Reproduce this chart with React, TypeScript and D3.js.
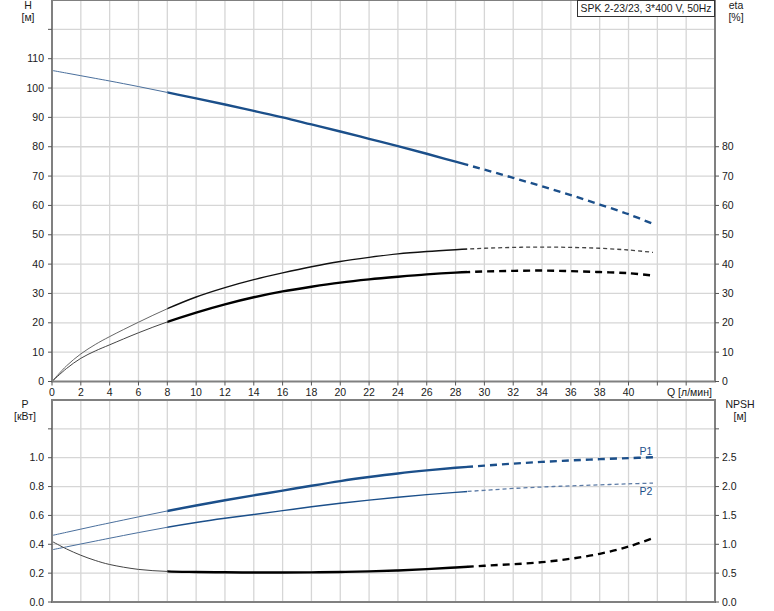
import React from "react";
import * as d3 from "d3";

const qValues = [0, 1, 2, 3, 4, 6, 8, 10, 12, 14, 16, 18, 20, 22, 24, 26, 28, 30, 32, 34, 36, 38, 40, 41.7];
const headH = [106, 105.1, 104.2, 103.3, 102.4, 100.5, 98.5, 96.5, 94.4, 92.2, 90.0, 87.6, 85.2, 82.7, 80.2, 77.6, 74.9, 72.2, 69.4, 66.5, 63.5, 60.3, 57.0, 53.7];
const etaUpper = [0, 5.3, 9.4, 12.6, 15.3, 20.2, 24.8, 28.8, 32.0, 34.7, 37.0, 39.1, 40.9, 42.3, 43.5, 44.3, 44.9, 45.4, 45.7, 45.8, 45.7, 45.4, 44.8, 44.0];
const etaLower = [0, 4.4, 7.9, 10.4, 12.5, 16.6, 20.3, 23.5, 26.3, 28.7, 30.7, 32.3, 33.7, 34.8, 35.7, 36.5, 37.1, 37.5, 37.7, 37.8, 37.6, 37.3, 36.9, 36.1];
const powerP1 = [0.461, 0.483, 0.505, 0.527, 0.548, 0.590, 0.631, 0.669, 0.705, 0.739, 0.772, 0.806, 0.838, 0.866, 0.891, 0.912, 0.930, 0.945, 0.959, 0.971, 0.981, 0.990, 0.997, 1.003];
const powerP2 = [0.362, 0.382, 0.402, 0.422, 0.442, 0.481, 0.518, 0.551, 0.580, 0.606, 0.633, 0.660, 0.684, 0.706, 0.726, 0.744, 0.760, 0.774, 0.787, 0.797, 0.805, 0.812, 0.819, 0.824];
const npsh = [1.05, 0.92, 0.81, 0.72, 0.65, 0.565, 0.53, 0.52, 0.515, 0.51, 0.51, 0.513, 0.52, 0.53, 0.547, 0.57, 0.598, 0.628, 0.655, 0.69, 0.75, 0.835, 0.96, 1.107];

const xTicks = d3.range(0, 46, 2);
const xLabels = d3.range(0, 42, 2);
const hTicks = d3.range(0, 130, 10);
const hLabels = d3.range(0, 120, 10);
const etaLabels = d3.range(0, 90, 10);
const pTicks = [0, 0.2, 0.4, 0.6, 0.8, 1.0, 1.2];
const pLabels = [0, 0.2, 0.4, 0.6, 0.8, 1.0];
const npshTicks = [0, 0.5, 1.0, 1.5, 2.0, 2.5, 3.0];
const npshLabels = [0, 0.5, 1.0, 1.5, 2.0, 2.5];

const title = "SPK 2-23/23, 3*400 V, 50Hz";
const SPLIT1 = 8;
const SPLIT2 = 28.8;

const L = 52, R = 715;
const T1 = 0, B1 = 381.5;
const T2 = 400, B2 = 602;

const x = d3.scaleLinear().domain([0, 46]).range([L, R]);
const yH = d3.scaleLinear().domain([0, 130]).range([B1, T1]);
const yP = d3.scaleLinear().domain([0, 1.4]).range([B2, T2]);
const yN = d3.scaleLinear().domain([0, 3.5]).range([B2, T2]);

const BLUE = "#1b4f8a";
const FONT = "Liberation Sans, Arial, sans-serif";
const FS = 10.5;

type Style = { color: string; thin: number; mid: number; dash: number; dashArr: string; dashColor?: string; thinColor?: string };

function Curve({ ys, yScale, st, id }: { ys: number[]; yScale: d3.ScaleLinear<number, number>; st: Style; id: string }) {
  const line = d3
    .line<number>()
    .x((_, i) => x(qValues[i]))
    .y((v) => yScale(v))
    .curve(d3.curveCatmullRom.alpha(0.5));
  const d = line(ys) || "";
  return (
    <g>
      <defs>
        <clipPath id={id + "a"}>
          <rect x={0} y={0} width={x(SPLIT1)} height={611} />
        </clipPath>
        <clipPath id={id + "b"}>
          <rect x={x(SPLIT1)} y={0} width={x(SPLIT2) - x(SPLIT1)} height={611} />
        </clipPath>
        <clipPath id={id + "c"}>
          <rect x={x(SPLIT2)} y={0} width={774 - x(SPLIT2)} height={611} />
        </clipPath>
      </defs>
      <path d={d} fill="none" stroke={st.thinColor || st.color} strokeWidth={st.thin} clipPath={`url(#${id}a)`} />
      <path d={d} fill="none" stroke={st.color} strokeWidth={st.mid} clipPath={`url(#${id}b)`} />
      <path d={d} fill="none" stroke={st.dashColor || st.color} strokeWidth={st.dash} strokeDasharray={st.dashArr} clipPath={`url(#${id}c)`} />
    </g>
  );
}

const thickBlue: Style = { color: BLUE, thin: 1, mid: 2.4, dash: 2.4, dashArr: "7,5", thinColor: "#4a6f9c" };
const thinBlue: Style = { color: BLUE, thin: 1, mid: 1.4, dash: 1.3, dashArr: "4,3", dashColor: "#5b7aa5", thinColor: "#4a6f9c" };
const thickBlack: Style = { color: "#000", thin: 1, mid: 2.4, dash: 2.4, dashArr: "7,5", thinColor: "#444" };
const thinBlack: Style = { color: "#111", thin: 0.9, mid: 1.4, dash: 1.3, dashArr: "4,3", dashColor: "#444", thinColor: "#555" };

export default function App() {
  const grid = "#d6d6d6";
  const axis = "#808080";
  const txt = "#1a1a1a";
  return (
    <svg width={774} height={611} style={{ position: "absolute", left: 0, top: 0, background: "#fff" }} fontFamily={FONT}>
      <rect x={0} y={0} width={774} height={611} fill="#fff" />
      {xTicks.slice(1).map((q) => (
        <line key={"gx1" + q} x1={x(q)} x2={x(q)} y1={T1} y2={B1} stroke={grid} strokeWidth={1.3} />
      ))}
      {hTicks.slice(1).map((v) => (
        <line key={"gy1" + v} x1={L} x2={R} y1={yH(v)} y2={yH(v)} stroke={grid} strokeWidth={1.3} />
      ))}
      {xTicks.slice(1).map((q) => (
        <line key={"gx2" + q} x1={x(q)} x2={x(q)} y1={T2} y2={B2} stroke={grid} strokeWidth={1.3} />
      ))}
      {pTicks.slice(1).map((v) => (
        <line key={"gy2" + v} x1={L} x2={R} y1={yP(v)} y2={yP(v)} stroke={grid} strokeWidth={1.3} />
      ))}

      <Curve ys={headH} yScale={yH} st={thickBlue} id="cH" />
      <Curve ys={etaUpper} yScale={yH} st={thinBlack} id="cE1" />
      <Curve ys={etaLower} yScale={yH} st={thickBlack} id="cE2" />
      <Curve ys={powerP1} yScale={yP} st={thickBlue} id="cP1" />
      <Curve ys={powerP2} yScale={yP} st={thinBlue} id="cP2" />
      <Curve ys={npsh} yScale={yN} st={thickBlack} id="cN" />

      <line x1={L} x2={R} y1={T1 + 0.5} y2={T1 + 0.5} stroke={axis} strokeWidth={1} />
      <line x1={L} x2={L} y1={T1} y2={B1} stroke={axis} strokeWidth={2} />
      <line x1={R} x2={R} y1={T1} y2={B1} stroke={axis} strokeWidth={2} />
      <line x1={L - 1} x2={R + 1} y1={B1} y2={B1} stroke={axis} strokeWidth={2} />

      <line x1={L - 1} x2={R + 1} y1={T2} y2={T2} stroke={axis} strokeWidth={2} />
      <line x1={L} x2={L} y1={T2} y2={B2} stroke={axis} strokeWidth={2} />
      <line x1={R} x2={R} y1={T2} y2={B2} stroke={axis} strokeWidth={2} />
      <line x1={L - 1} x2={R + 1} y1={B2} y2={B2} stroke={axis} strokeWidth={2} />

      {hTicks.map((v) => (
        <line key={"th" + v} x1={L - 4} x2={L} y1={yH(v)} y2={yH(v)} stroke="#555" strokeWidth={1} />
      ))}
      {hLabels.map((v) => (
        <text key={"lh" + v} x={44} y={yH(v)} dy="0.35em" textAnchor="end" fontSize={FS} fill={txt}>
          {v}
        </text>
      ))}
      {etaLabels.map((v) => (
        <g key={"le" + v}>
          <line x1={R} x2={R + 4} y1={yH(v)} y2={yH(v)} stroke="#555" strokeWidth={1} />
          <text x={722} y={yH(v)} dy="0.35em" textAnchor="start" fontSize={FS} fill={txt}>
            {v}
          </text>
        </g>
      ))}
      {xTicks.map((q) => (
        <line key={"tx" + q} x1={x(q)} x2={x(q)} y1={B1} y2={B1 + 4} stroke="#555" strokeWidth={1} />
      ))}
      {xLabels.map((q) => (
        <text key={"lx" + q} x={x(q)} y={396} textAnchor="middle" fontSize={FS} fill={txt}>
          {q}
        </text>
      ))}
      <text x={667} y={396} fontSize={FS} fill={txt}>Q [л/мин]</text>

      {pTicks.map((v) => (
        <line key={"tp" + v} x1={L - 4} x2={L} y1={yP(v)} y2={yP(v)} stroke="#555" strokeWidth={1} />
      ))}
      {pLabels.map((v) => (
        <text key={"lp" + v} x={44} y={yP(v)} dy="0.35em" textAnchor="end" fontSize={FS} fill={txt}>
          {v.toFixed(1)}
        </text>
      ))}
      {npshTicks.map((v) => (
        <line key={"tn" + v} x1={R} x2={R + 4} y1={yN(v)} y2={yN(v)} stroke="#555" strokeWidth={1} />
      ))}
      {npshLabels.map((v) => (
        <text key={"ln" + v} x={722} y={yN(v)} dy="0.35em" textAnchor="start" fontSize={FS} fill={txt}>
          {v.toFixed(1)}
        </text>
      ))}

      <text x={28} y={9} textAnchor="middle" fontSize={FS} fill={txt}>H</text>
      <text x={28} y={21} textAnchor="middle" fontSize={FS} fill={txt}>[м]</text>
      <text x={736} y={9} textAnchor="middle" fontSize={FS} fill={txt}>eta</text>
      <text x={736} y={21} textAnchor="middle" fontSize={FS} fill={txt}>[%]</text>
      <text x={25} y={408} textAnchor="middle" fontSize={FS} fill={txt}>P</text>
      <text x={25} y={420} textAnchor="middle" fontSize={FS} fill={txt}>[кВт]</text>
      <text x={740} y={408} textAnchor="middle" fontSize={FS} fill={txt}>NPSH</text>
      <text x={740} y={420} textAnchor="middle" fontSize={FS} fill={txt}>[м]</text>

      <text x={646} y={455} textAnchor="middle" fontSize={FS} fill={BLUE}>P1</text>
      <text x={646} y={495} textAnchor="middle" fontSize={FS} fill={BLUE}>P2</text>

      <rect x={577.5} y={0.5} width={137} height={16} fill="#fff" stroke="#333" strokeWidth={1} />
      <text x={580.5} y={12} fontSize={10.3} fill={txt} textLength={131} lengthAdjust="spacingAndGlyphs">{title}</text>
    </svg>
  );
}
